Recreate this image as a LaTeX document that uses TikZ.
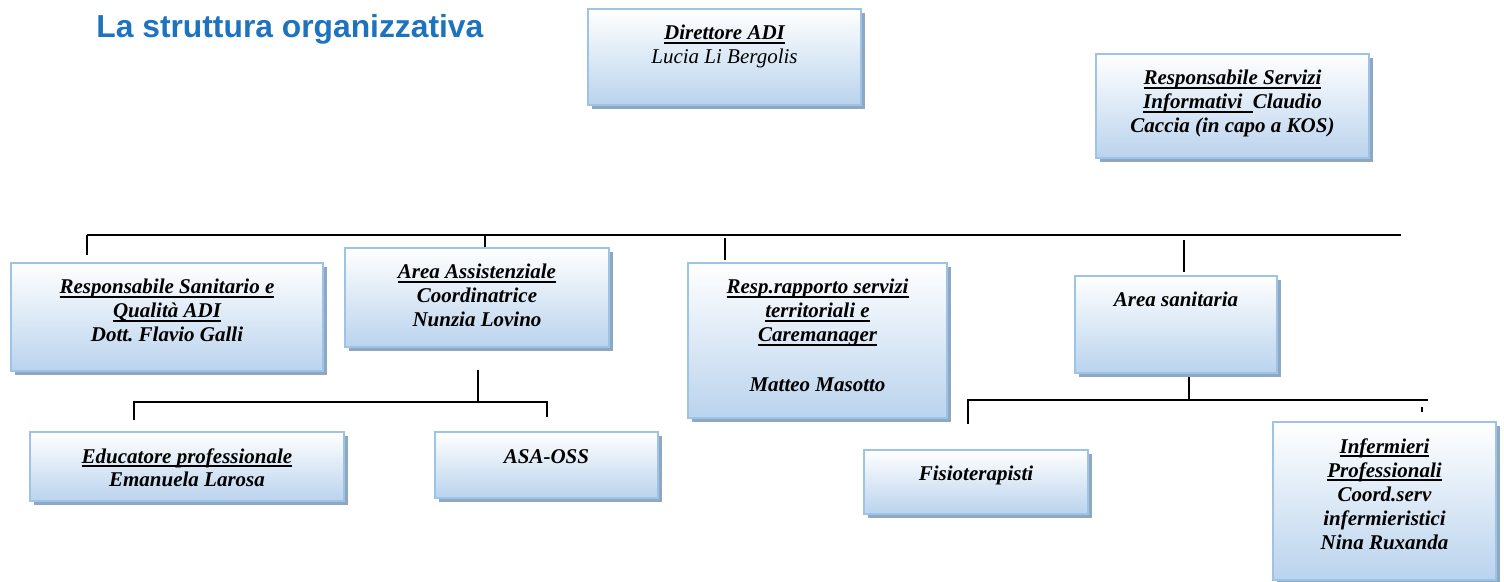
\documentclass[tikz,border=0pt]{standalone}
\usepackage{fontspec}
\setmainfont{Liberation Serif}
\newfontfamily\titlefont{Liberation Sans}
\usetikzlibrary{shadows}
\definecolor{boxline}{RGB}{157,195,230}
\definecolor{boxbot}{RGB}{186,211,237}
\definecolor{shc}{RGB}{143,168,194}
\definecolor{titleblue}{RGB}{30,115,190}
\frenchspacing
\newcommand\uln[1]{\leavevmode\setbox0\hbox{#1}\rlap{\rule[-2pt]{\wd0}{0.85pt}}\box0}
\newcommand\firstl{\leavevmode\rule{0pt}{15.5pt}}
\tikzset{
  obox/.style={draw=boxline, line width=1pt, top color=white, bottom color=boxbot,
    inner sep=0pt, anchor=north west,
    drop shadow={shadow xshift=2pt, shadow yshift=-2pt, fill=shc, opacity=1}},
  conn/.style={line width=1pt, black},
}
\newcommand\obox[6]{%
  \node[obox] (#1) at (#2,#3) {\parbox[c][\dimexpr#5pt/2\relax][t]{\dimexpr#4pt/2\relax}{%
    \centering\fontsize{10.5}{12}\selectfont\bfseries\itshape\firstl #6\par}};}
\begin{document}
\begin{tikzpicture}[x=0.5pt, y=-0.5pt]
\useasboundingbox (0,0) rectangle (1504,582);
% title
\node[anchor=base west, inner sep=0pt, text=titleblue, font=\titlefont\bfseries\fontsize{15.9}{18}\selectfont] (title) at (96,38) {La struttura organizzativa};
% connectors (drawn first, boxes on top)
\coordinate (busL) at (87,235);
\coordinate (busR) at (1401,235);
\coordinate (d1e) at (87,255);
\coordinate (d2s) at (485,235);
\coordinate (d3s) at (725,238);
\coordinate (d3e) at (725,260);
\coordinate (d4s) at (1184,240);
\coordinate (d4e) at (1184,272);
\coordinate (aaS) at (478,370);
\coordinate (aaE) at (478,401);
\coordinate (edT) at (134,420);
\coordinate (edC) at (134,402);
\coordinate (asC) at (547,402);
\coordinate (asT) at (547,417);
\coordinate (saS) at (1189,372);
\coordinate (saE) at (1189,400);
\coordinate (fiT) at (968,424);
\coordinate (fiC) at (968,400);
\coordinate (inC) at (1428,400);
\coordinate (tkA) at (1422,407);
\coordinate (tkB) at (1422,412);
\draw[conn] (busL) -- (busR);
\draw[conn] (busL) -- (d1e);
\draw[conn] (d2s) -- (485,250);
\draw[conn] (d3s) -- (d3e);
\draw[conn] (d4s) -- (d4e);
\draw[conn] (aaS) -- (aaE);
\draw[conn] (edT) -- (edC) -- (asC) -- (asT);
\draw[conn] (saS) -- (saE);
\draw[conn] (fiT) -- (fiC) -- (inC);
\draw[conn, line width=0.8pt] (tkA) -- (tkB);
% boxes
\obox{dir}{587}{8}{273}{96}{\uln{Direttore ADI}\\\mdseries Lucia Li Bergolis}
\obox{rsi}{1095}{53}{273}{104}{\uln{Responsabile Servizi}\\\uln{Informativi\ \ }Claudio\\Caccia (in capo a KOS)}
\obox{rsq}{10}{262}{312}{108}{\uln{Responsabile Sanitario e}\\\uln{Qualità ADI}\\Dott. Flavio Galli}
\obox{aa}{344}{247}{264}{99}{\uln{Area Assistenziale}\\Coordinatrice\\Nunzia Lovino}
\obox{rr}{687}{262}{259}{155}{\uln{Resp.rapporto servizi}\\\uln{territoriali e}\\\uln{Caremanager}\\[13pt]Matteo Masotto}
\obox{sa}{1074}{275}{202}{97}{Area sanitaria}
\obox{edu}{29}{431}{314}{69}{\uln{Educatore professionale}\\Emanuela Larosa}
\obox{asa}{434}{431}{223}{66}{ASA-OSS}
\obox{fis}{863}{449}{224}{64}{Fisioterapisti}
\obox{inf}{1272}{421}{223}{158}{\uln{Infermieri}\\\uln{Professionali}\\Coord.serv\\infermieristici\\Nina Ruxanda}
\end{tikzpicture}
\end{document}
